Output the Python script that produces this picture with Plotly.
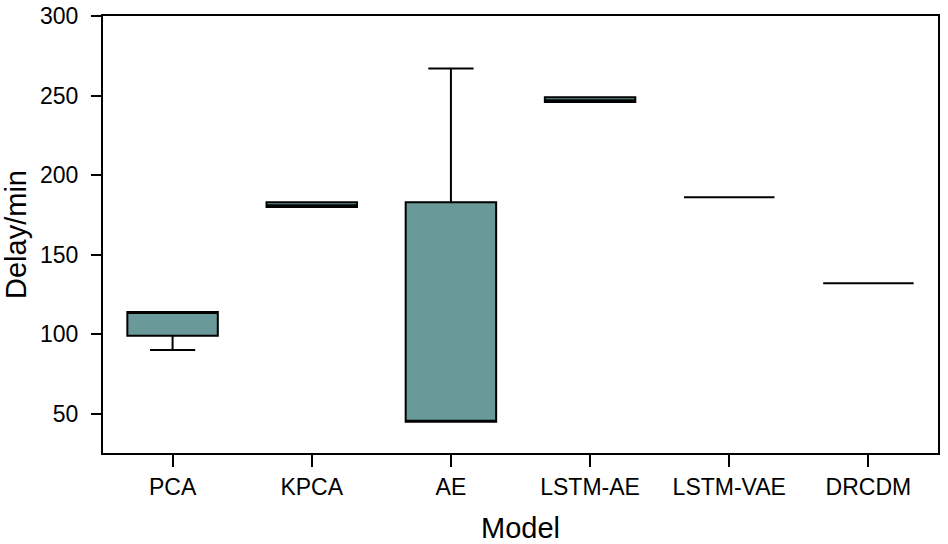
import plotly.graph_objects as go

# 各模型的检测延迟箱线图统计量 (分钟)
models = ['PCA', 'KPCA', 'AE', 'LSTM-AE', 'LSTM-VAE', 'DRCDM']
lower = [90, 180, 45, 246, 186, 132]
q1 = [99, 180, 45, 246, 186, 132]
median = [114, 181, 45, 247, 186, 132]
q3 = [114, 183, 183, 249, 186, 132]
upper = [114, 183, 267, 249, 186, 132]

y_ticks = [50, 100, 150, 200, 250, 300]

fig = go.Figure()
fig.add_trace(go.Box(
    x=models,
    q1=q1,
    median=median,
    q3=q3,
    lowerfence=lower,
    upperfence=upper,
    fillcolor='#699999',
    line=dict(color='black', width=2),
    width=0.65,
    whiskerwidth=0.5,
    boxpoints=False,
    showlegend=False,
))

axis_common = dict(
    showline=True, linecolor='black', linewidth=2, mirror=True,
    ticks='outside', tickcolor='black', tickwidth=2,
    showgrid=False, zeroline=False, automargin=False,
    ticklabeloverflow='allow',
    tickfont=dict(size=23, color='black'),
)

fig.update_xaxes(
    **axis_common, ticklen=12, range=[-0.5, 5.5],
    title=dict(text='Model', font=dict(size=29, color='black'), standoff=22),
)
fig.update_yaxes(
    **axis_common, ticklen=10, range=[25.3, 300],
    tickvals=y_ticks, ticklabelstandoff=8,
    title=dict(text='Delay/min', font=dict(size=29, color='black'), standoff=14),
)

fig.update_layout(
    width=948, height=544,
    margin=dict(l=103, r=10, t=16, b=91),
    paper_bgcolor='white', plot_bgcolor='white',
    font=dict(family='Liberation Sans, Arial, sans-serif', color='black'),
)

# 去掉页面 body 默认的 8px 边距，让画布贴齐窗口；不显示工具栏
fig.write_html(
    "out.html",
    config={'displayModeBar': False},
    post_script="document.body.style.margin = '0';",
)
